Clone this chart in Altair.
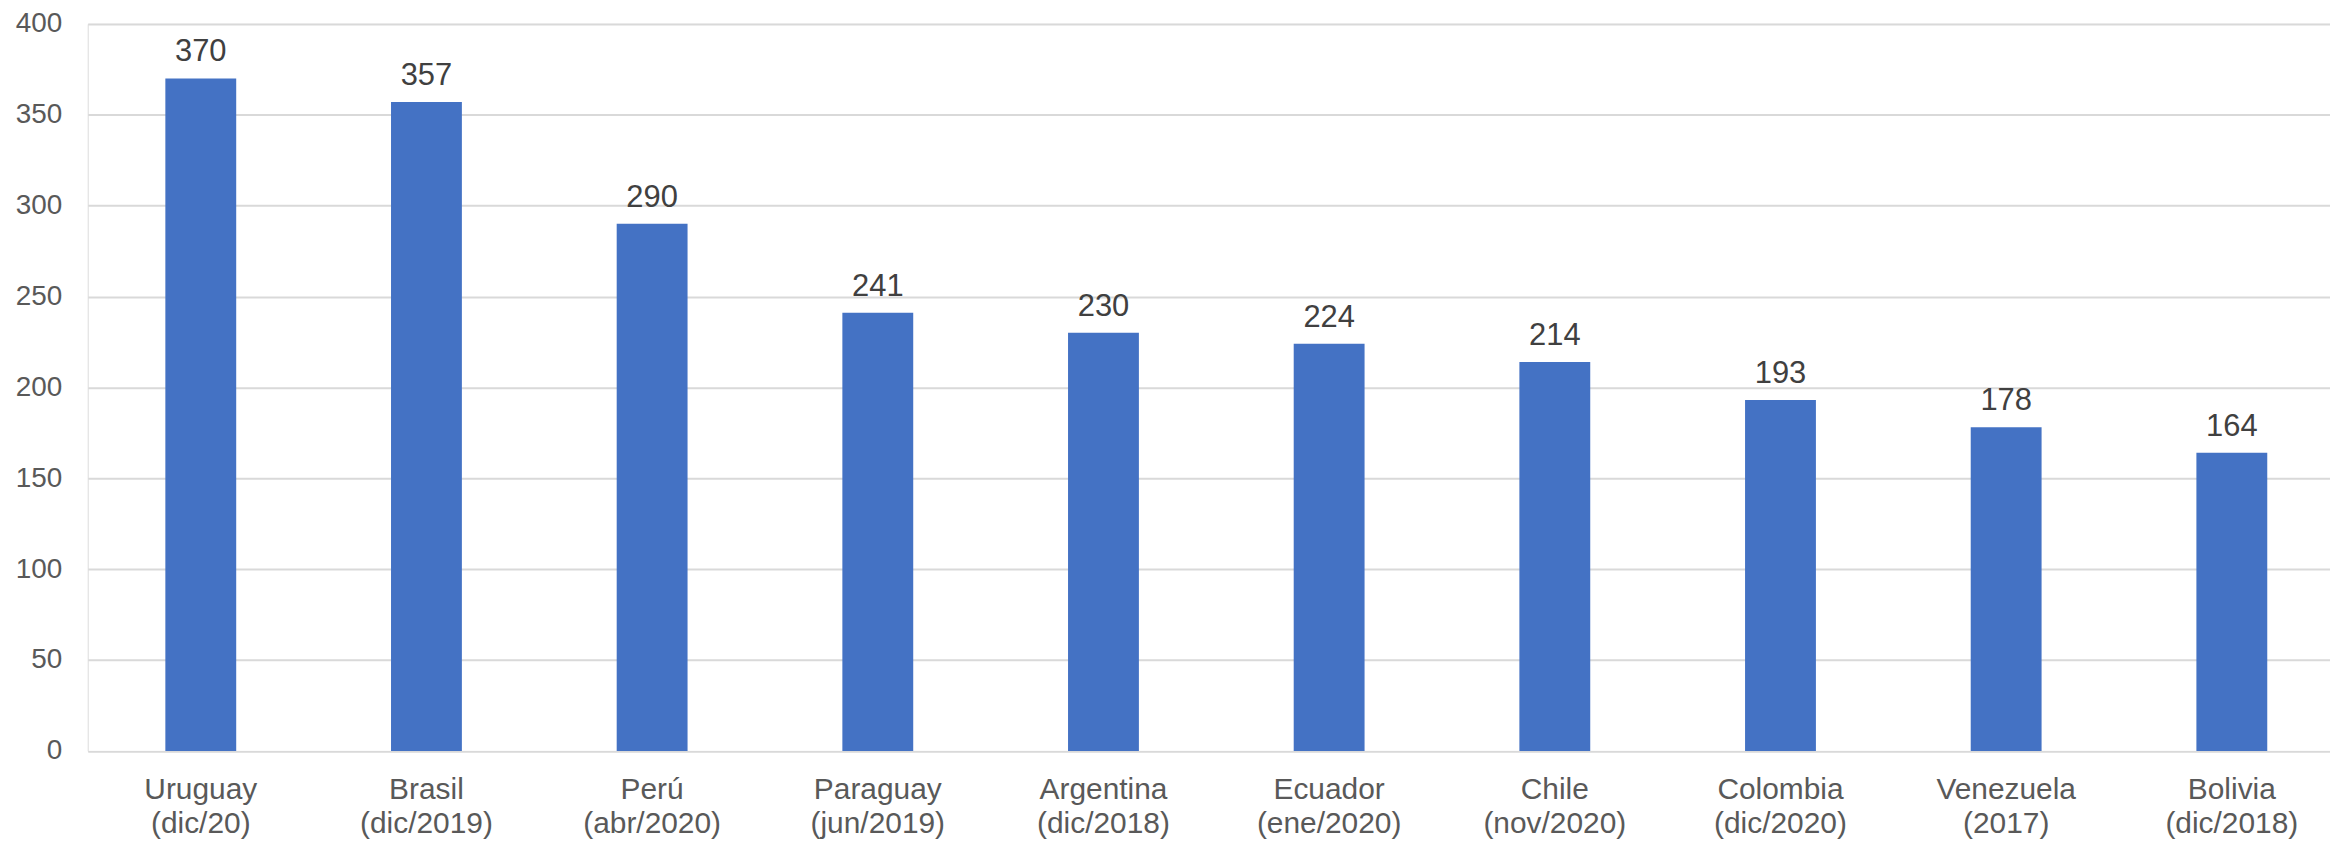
import altair as alt
import pandas as pd

countries = ["Uruguay", "Brasil", "Perú", "Paraguay", "Argentina", "Ecuador",
             "Chile", "Colombia", "Venezuela", "Bolivia"]
periods = ["(dic/20)", "(dic/2019)", "(abr/2020)", "(jun/2019)", "(dic/2018)",
           "(ene/2020)", "(nov/2020)", "(dic/2020)", "(2017)", "(dic/2018)"]
values = [370, 357, 290, 241, 230, 224, 214, 193, 178, 164]
y_ticks = [0, 50, 100, 150, 200, 250, 300, 350, 400]

labels = [f"{c}\n{p}" for c, p in zip(countries, periods)]
df = pd.DataFrame({"cat": labels, "value": values})

FONT = "Liberation Sans"

x = alt.X(
    "cat:N",
    sort=None,
    title=None,
    scale=alt.Scale(paddingInner=0.686, paddingOuter=0.311, align=0.553),
    axis=alt.Axis(
        labelExpr="split(datum.label, '\\n')",
        labelAngle=0,
        labelFont=FONT,
        labelFontSize=30,
        labelColor="#595959",
        labelLineHeight=34,
        labelPadding=24,
        ticks=False,
        domain=False,
        grid=False,
        labelAlign="center",
        labelBaseline="top",
    ),
)

y = alt.Y(
    "value:Q",
    title=None,
    scale=alt.Scale(domain=[0, 400], nice=False),
    axis=alt.Axis(
        values=y_ticks,
        labelFont=FONT,
        labelFontSize=28,
        labelColor="#595959",
        labelPadding=26,
        ticks=False,
        domain=False,
        grid=True,
        gridColor="#D9D9D9",
        gridWidth=2,
    ),
)

base = alt.Chart(df)

bars = base.mark_bar(color="#4472C4").encode(x=x, y=y)

text = base.mark_text(
    font=FONT,
    fontSize=31,
    color="#404040",
    baseline="alphabetic",
    dy=-17,
).encode(x=x, y=y, text=alt.Text("value:Q"))

chart = (
    alt.layer(bars, text)
    .properties(
        width=2250,
        height=729.5,
        autosize=alt.AutoSizeParams(type="none"),
        padding={"left": 80, "top": 14.5, "right": 0, "bottom": 92},
    )
    .configure_view(stroke=None)
    .configure(background="white")
)

chart.save("out.html", embed_options={"renderer": "svg", "actions": False})
